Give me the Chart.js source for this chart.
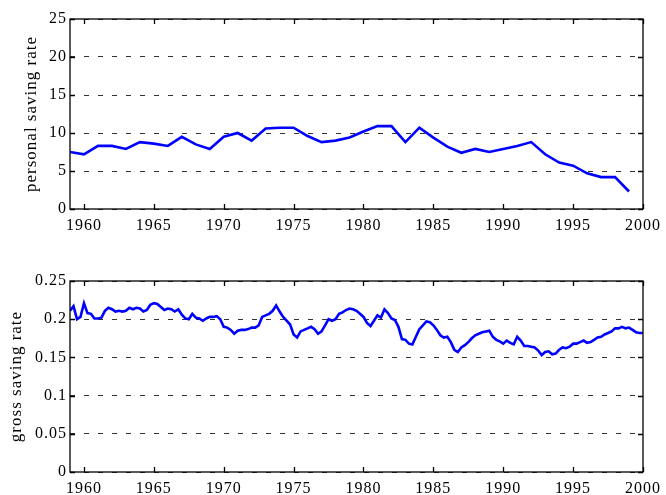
<!DOCTYPE html>
<html>
<head>
<meta charset="utf-8">
<script src="https://cdn.jsdelivr.net/npm/chart.js@4"></script>
<style>
  html, body { margin: 0; padding: 0; background: #fff; }
  body { width: 666px; height: 495px; position: relative; overflow: hidden; }
  canvas { position: absolute; left: 0; }
</style>
</head>
<body>
<canvas id="top" width="666" height="247" style="top:0;width:666px;height:247px"></canvas>
<canvas id="bottom" width="666" height="248" style="top:247px;width:666px;height:248px"></canvas>
<script>
// ---- data ----
const personalYears = [1959,1960,1961,1962,1963,1964,1965,1966,1967,1968,1969,1970,1971,1972,1973,1974,1975,1976,1977,1978,1979,1980,1981,1982,1983,1984,1985,1986,1987,1988,1989,1990,1991,1992,1993,1994,1995,1996,1997,1998,1999];
const personalRate = [7.5,7.2,8.3,8.3,7.9,8.8,8.6,8.3,9.5,8.5,7.9,9.5,10.0,9.0,10.6,10.7,10.7,9.6,8.8,9.0,
  9.4,10.2,10.9,10.9,8.8,10.7,9.4,8.2,7.4,7.9,7.5,7.9,8.3,8.8,7.2,6.1,5.7,4.7,4.2,4.2,2.3];
const grossStartYear = 1959; // quarterly series, first quarter 1959Q1
const grossRate = [
  0.211,0.217,0.200,0.203,0.221,0.208,0.207,0.201,0.201,0.202,
  0.211,0.215,0.213,0.210,0.211,0.210,0.211,0.215,0.213,0.215,
  0.214,0.210,0.212,0.219,0.221,0.220,0.216,0.212,0.214,0.213,
  0.210,0.213,0.206,0.201,0.200,0.207,0.202,0.201,0.198,0.201,
  0.203,0.203,0.204,0.200,0.190,0.189,0.186,0.181,0.185,0.186,
  0.186,0.187,0.189,0.189,0.192,0.203,0.205,0.207,0.211,0.218,
  0.210,0.203,0.198,0.193,0.180,0.176,0.184,0.186,0.188,0.190,
  0.187,0.181,0.184,0.192,0.200,0.198,0.200,0.207,0.209,0.212,
  0.214,0.213,0.211,0.207,0.203,0.195,0.191,0.198,0.205,0.202,
  0.213,0.208,0.201,0.199,0.190,0.174,0.173,0.168,0.167,0.177,
  0.187,0.192,0.197,0.196,0.192,0.186,0.179,0.176,0.177,0.170,
  0.160,0.157,0.163,0.166,0.170,0.175,0.179,0.181,0.183,0.184,
  0.185,0.177,0.173,0.171,0.168,0.172,0.169,0.167,0.177,0.172,
  0.165,0.165,0.164,0.163,0.159,0.153,0.157,0.158,0.154,0.155,
  0.160,0.163,0.162,0.164,0.168,0.168,0.170,0.172,0.169,0.170,
  0.173,0.176,0.177,0.180,0.182,0.184,0.188,0.188,0.190,0.188,
  0.189,0.186,0.183,0.182,0.182];
const xTicks = [1960,1965,1970,1975,1980,1985,1990,1995,2000];
const personalTicks = [0,5,10,15,20,25];
const grossTicks = [0,0.05,0.1,0.15,0.2,0.25];
const grossTickLabels = ['0','0.05','0.1','0.15','0.2','0.25'];

// ---- helpers ----
const FONT = 'Liberation Serif, Times New Roman, serif';

const spacingPlugin = {
  id: 'spacing',
  beforeDraw(chart) { chart.ctx.letterSpacing = '1px'; }
};

const framePlugin = {
  id: 'frame',
  afterDatasetsDraw(chart) {
    const {ctx, chartArea: a, scales: {x, y}} = chart;
    ctx.save();
    ctx.strokeStyle = '#000';
    ctx.lineWidth = 1.3;
    ctx.setLineDash([]);
    ctx.strokeRect(a.left, a.top, a.right - a.left, a.bottom - a.top);
    const L = 5;
    ctx.beginPath();
    x.ticks.forEach(t => {
      const px = Math.round(x.getPixelForValue(t.value)) + 0.5;
      ctx.moveTo(px, a.bottom); ctx.lineTo(px, a.bottom - L);
      ctx.moveTo(px, a.top); ctx.lineTo(px, a.top + L);
    });
    y.ticks.forEach(t => {
      const py = Math.round(y.getPixelForValue(t.value)) + 0.5;
      ctx.moveTo(a.left, py); ctx.lineTo(a.left + L, py);
      ctx.moveTo(a.right, py); ctx.lineTo(a.right - L, py);
    });
    ctx.stroke();
    ctx.restore();
  }
};

function makeChart(id, data, yTicks, yLabels, yMax, title, opts) {
  return new Chart(document.getElementById(id), {
    type: 'line',
    data: { datasets: [{
      data: data,
      borderColor: '#0000ff',
      borderWidth: 2.6,
      pointRadius: 0,
      tension: 0,
      fill: false
    }]},
    options: {
      responsive: false,
      maintainAspectRatio: false,
      animation: false,
      devicePixelRatio: 1,
      plugins: { legend: { display: false }, tooltip: { enabled: false } },
      layout: { padding: { top: opts.padTop, right: 19, left: 0, bottom: 0 } },
      scales: {
        x: {
          type: 'linear',
          min: 1959, max: 2000,
          afterBuildTicks: s => { s.ticks = xTicks.map(v => ({ value: v })); },
          afterFit: s => { s.height = opts.xHeight; },
          ticks: {
            color: '#000', font: { family: FONT, size: 16 }, padding: 7,
            maxRotation: 0, autoSkip: false,
            callback: v => String(v)
          },
          grid: { display: false, drawTicks: false },
          border: { display: false }
        },
        y: {
          type: 'linear',
          min: 0, max: yMax,
          afterBuildTicks: s => { s.ticks = yTicks.map(v => ({ value: v })); },
          afterFit: s => { s.width = 70; },
          ticks: {
            color: '#000', font: { family: FONT, size: 16 }, padding: 3,
            autoSkip: false,
            callback: (v, i) => yLabels[i]
          },
          grid: { color: '#333', lineWidth: 1, drawTicks: false },
          border: { display: false, dash: [5, 9] },
          title: {
            display: true, text: title, color: '#000',
            font: { family: FONT, size: 17 },
            padding: { top: opts.titlePad, bottom: 0 }
          }
        }
      }
    },
    plugins: [spacingPlugin, framePlugin]
  });
}

const personalData = personalYears.map((yr, i) => ({ x: yr, y: personalRate[i] }));
const grossData = grossRate.map((v, i) => ({ x: grossStartYear + i / 4, y: v }));

makeChart('top', personalData, personalTicks, personalTicks.map(String), 25,
  'personal saving rate', { padTop: 19, xHeight: 38, titlePad: 21 });
makeChart('bottom', grossData, grossTicks, grossTickLabels, 0.25,
  'gross saving rate', { padTop: 34, xHeight: 23, titlePad: 6 });
</script>
</body>
</html>
